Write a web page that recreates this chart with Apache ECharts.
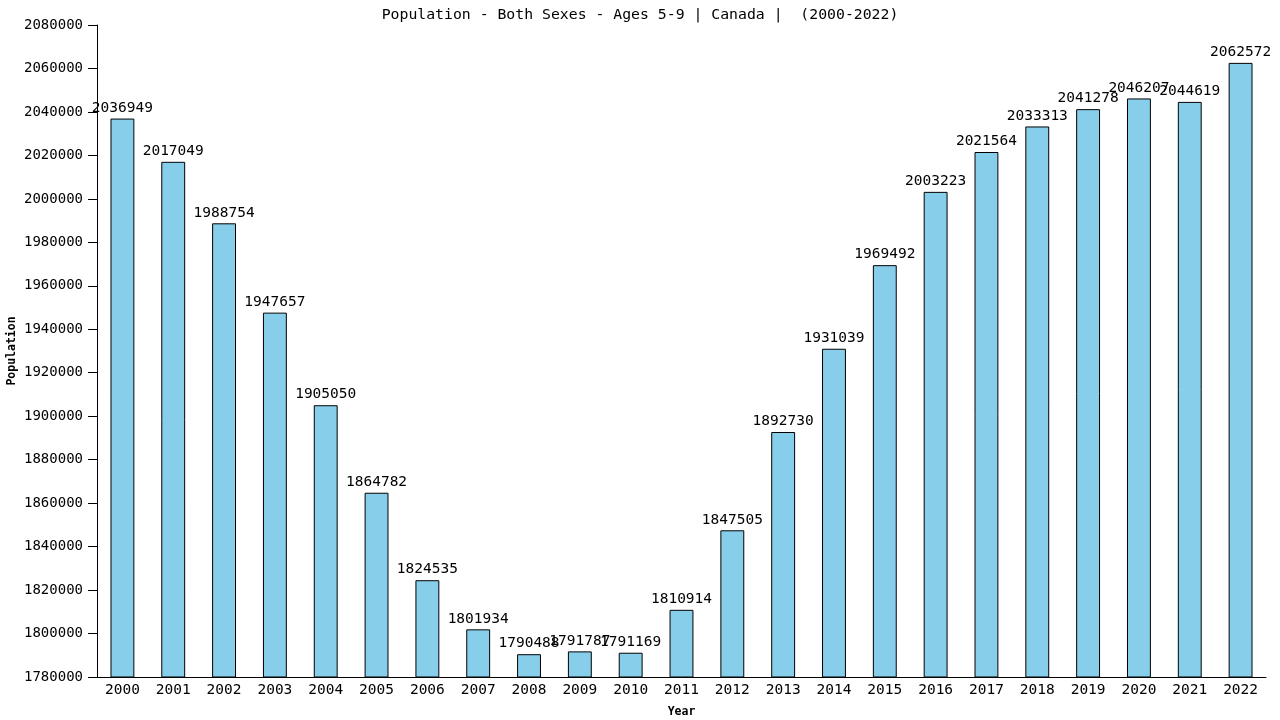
<!DOCTYPE html>
<html><head><meta charset="utf-8">
<script src="https://cdn.jsdelivr.net/npm/echarts@6/dist/echarts.min.js"></script>
<style>html,body{margin:0;padding:0;background:#fff}#c{width:1280px;height:720px}</style>
</head><body><div id="c"></div>
<script>
const years = ['2000','2001','2002','2003','2004','2005','2006','2007','2008','2009','2010','2011','2012','2013','2014','2015','2016','2017','2018','2019','2020','2021','2022'];
const population = [2036949,2017049,1988754,1947657,1905050,1864782,1824535,1801934,1790488,1791787,1791169,1810914,1847505,1892730,1931039,1969492,2003223,2021564,2033313,2041278,2046207,2044619,2062572];
const titleText = 'Population - Both Sexes - Ages 5-9 | Canada |  (2000-2022)';
const font = 'DejaVu Sans Mono';
const chart = echarts.init(document.getElementById('c'));
chart.setOption({
  animation:false,
  backgroundColor:'#fff',
  title:{text:titleText,left:'center',top:3,textStyle:{fontFamily:font,fontSize:14.8,fontWeight:'normal',color:'#000'}},
  grid:{left:97,right:14,top:25,bottom:43,containLabel:false,outerBoundsMode:'none'},
  xAxis:{type:'category',data:years,name:'Year',nameLocation:'middle',nameGap:29,nameMoveOverlap:false,
    nameTextStyle:{fontFamily:font,fontSize:11.5,fontWeight:'bold',color:'#000'},
    axisLine:{lineStyle:{color:'#000'}},axisTick:{show:false},
    axisLabel:{fontFamily:font,fontSize:14.5,color:'#000',margin:6}},
  yAxis:{type:'value',min:1780000,max:2080000,interval:20000,name:'Population',nameLocation:'middle',nameGap:79,nameMoveOverlap:false,
    nameTextStyle:{fontFamily:font,fontSize:11.5,fontWeight:'bold',color:'#000'},
    axisLine:{show:true,lineStyle:{color:'#000'}},axisTick:{show:true,length:9,lineStyle:{color:'#000'}},
    splitLine:{show:false},
    axisLabel:{fontFamily:font,fontSize:14,color:'#000',margin:14,formatter:v=>String(v)}},
  series:[{type:'bar',data:population,barWidth:'47%',
    itemStyle:{color:'#87CEEB',borderColor:'#000',borderWidth:1},
    label:{show:true,position:'top',distance:3,fontFamily:font,fontSize:14.5,color:'#000'}}]
});
</script></body></html>
